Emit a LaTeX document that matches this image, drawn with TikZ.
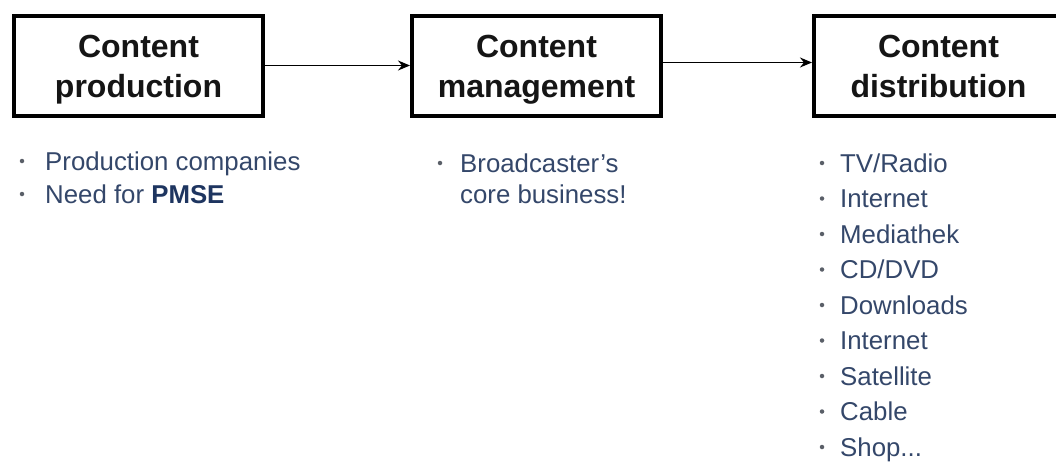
\documentclass[tikz,border=0pt]{standalone}
\usepackage{fontspec}
\setmainfont{Liberation Sans}
\usetikzlibrary{arrows.meta}
\definecolor{titletxt}{HTML}{151515}
\definecolor{itemtxt}{HTML}{34476A}
\definecolor{boldtxt}{HTML}{1E3560}
\definecolor{bulletc}{HTML}{5A5F68}
\tikzset{
  stagebox/.style={draw=black, line width=4pt, fill=white, minimum width=249pt, minimum height=100pt, inner sep=0pt},
  titletext/.style={inner sep=0pt, align=center, text=titletxt, font=\fontsize{32}{40}\selectfont\bfseries},
  flowarrow/.style={draw=black, line width=1.6pt, -{Stealth[length=12pt,width=10pt]}},
  itemtext/.style={anchor=base west, inner sep=0pt, text=itemtxt, font=\fontsize{25.8}{33}\selectfont},
  bullet/.style={circle, fill=bulletc, inner sep=0pt, minimum size=4.5pt}
}
\begin{document}
\begin{tikzpicture}[x=1pt,y=-1pt]
\useasboundingbox (0,0) rectangle (1056,466);
\fill[white] (0,0) rectangle (1056,466);

\node[stagebox] (b1) at (138.5,65.5) {};
\node[stagebox] (b2) at (536.5,65.5) {};
\node[stagebox] (b3) at (938.5,65.5) {};
\node[titletext] (t1) at ([yshift=-3.5pt]b1.center) {\strut Content\\\strut production};
\node[titletext] (t2) at ([yshift=-3.5pt]b2.center) {\strut Content\\\strut management};
\node[titletext] (t3) at ([yshift=-3.5pt]b3.center) {\strut Content\\\strut distribution};

\draw[flowarrow] (b1.east) -- (b2.west);
\draw[flowarrow] ([yshift=3pt]b2.east) -- ([yshift=3pt]b3.west);

% column 1
\node[itemtext] (p1) at (45,170) {Production companies};
\node[itemtext] (p2) at (45,203) {Need for \textcolor{boldtxt}{\bfseries PMSE}};
\node[bullet] (pb1) at (22,161) {};
\node[bullet] (pb2) at (22,194) {};

% column 2
\node[itemtext] (m1) at (460,172) {Broadcaster’s};
\node[itemtext] (m2) at (460,203) {core business!};
\node[bullet] (mb1) at (440,163) {};

% column 3
\foreach \t [count=\i from 0] in {TV/Radio,Internet,Mediathek,CD/DVD,Downloads,Internet,Satellite,Cable}{
  \node[itemtext] (d\i) at (840,{172+35.5*\i}) {\t};
  \node[bullet] (db\i) at (822,{163+35.5*\i}) {};
}
\node[itemtext] (d8) at (840,456) {Shop...};
\node[bullet] (db8) at (822,447) {};
\end{tikzpicture}
\end{document}
